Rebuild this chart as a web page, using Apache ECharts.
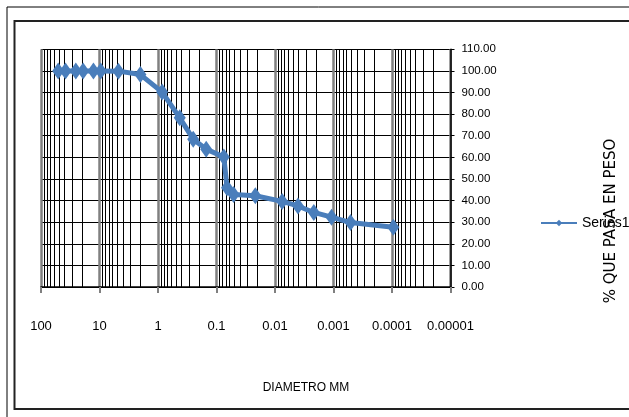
<!DOCTYPE html>
<html>
<head>
<meta charset="utf-8">
<script src="https://cdn.jsdelivr.net/npm/echarts@6/dist/echarts.min.js"></script>
<style>
  html, body { margin: 0; padding: 0; background: #fff; }
  #chart { width: 629px; height: 417px; }
</style>
</head>
<body>
<div id="chart"></div>
<script>
// Grain size distribution: particle diameter (mm) vs. percent passing
const diameters = [50.8, 38.1, 25.4, 19.05, 12.7, 9.525, 4.75, 2.0, 0.85, 0.425, 0.25, 0.15, 0.075,
                   0.066, 0.051, 0.0217, 0.00755, 0.00405, 0.00217, 0.00108, 0.000512, 0.000095];
const percentPassing = [100, 100, 100, 100, 100, 100, 99.9, 98.3, 90.2, 78.3, 68.4, 63.8, 60.2,
                        45.9, 42.8, 42.2, 39.6, 37.5, 34.5, 32.3, 29.8, 27.7];
const seriesName = 'Series1';
const xTickLabels = ['100', '10', '1', '0.1', '0.01', '0.001', '0.0001', '0.00001'];
const xMin = 0.00001, xMax = 100;
const yMin = 0, yMax = 110, yStep = 10;

const sans = "'Liberation Sans', Arial, sans-serif";

// minor log gridlines: 2..9 within each decade
const minorValues = [];
for (let e = -5; e < 2; e++) {
  for (let k = 2; k <= 9; k++) {
    minorValues.push([k * Math.pow(10, e), yMin]);
  }
}

const chart = echarts.init(document.getElementById('chart'), null, { renderer: 'canvas' });
chart.setOption({
  animation: false,
  backgroundColor: '#fff',
  grid: { left: 41, right: 178.5, top: 49.3, bottom: 130, containLabel: false },
  xAxis: {
    type: 'log',
    logBase: 10,
    min: xMin,
    max: xMax,
    inverse: true,
    axisLine: { show: true, lineStyle: { color: '#000', width: 1.5 } },
    axisTick: { show: true, length: 6, lineStyle: { color: '#808080', width: 2 } },
    axisLabel: {
      margin: 33,
      fontFamily: sans,
      fontSize: 13,
      color: '#000',
      formatter: function (v) {
        const i = Math.round(2 - Math.log10(v));
        return xTickLabels[i] !== undefined ? xTickLabels[i] : '';
      }
    },
    splitLine: { show: true, lineStyle: { color: '#808080', width: 2.5 } }
  },
  yAxis: {
    type: 'value',
    position: 'right',
    min: yMin,
    max: yMax,
    interval: yStep,
    axisLine: { show: true, lineStyle: { color: '#000', width: 1.5 } },
    axisTick: { show: true, inside: false, length: 4, lineStyle: { color: '#000' } },
    axisLabel: {
      margin: 11,
      fontFamily: sans,
      fontSize: 11.5,
      color: '#000',
      formatter: function (v) { return v.toFixed(2); }
    },
    splitLine: { show: true, lineStyle: { color: '#000', width: 1.2 } }
  },
  legend: {
    show: true,
    left: 535,
    top: 211,
    itemWidth: 36,
    itemHeight: 8,
    itemGap: 4,
    textStyle: { fontFamily: sans, fontSize: 14, color: '#000' },
    data: [seriesName]
  },
  graphic: [
    { type: 'rect', silent: true, z: 100,
      shape: { x: 7, y: 7, width: 700, height: 500 },
      style: { fill: 'none', stroke: '#000', lineWidth: 1 } },
    { type: 'rect', silent: true, z: 100,
      shape: { x: 14.5, y: 21, width: 700, height: 388 },
      style: { fill: 'none', stroke: '#222', lineWidth: 2 } },
    { type: 'text', silent: true, z: 100,
      x: 306, y: 388,
      style: {
        text: 'DIAMETRO MM',
        font: "12px 'Liberation Sans', Arial, sans-serif",
        fill: '#000',
        align: 'center',
        verticalAlign: 'middle'
      } },
    { type: 'text', silent: true, z: 100,
      x: 611, y: 221, rotation: Math.PI / 2,
      style: {
        text: '% QUE PASA EN PESO',
        font: "15px 'DejaVu Sans', sans-serif",
        fill: '#000',
        align: 'center',
        verticalAlign: 'middle'
      } }
  ],
  series: [
    {
      // log-scale minor gridlines
      type: 'custom',
      silent: true,
      z: 1,
      data: minorValues,
      encode: { x: 0, y: 1 },
      renderItem: function (params, api) {
        const v = api.value(0);
        const top = api.coord([v, yMax]);
        const bottom = api.coord([v, yMin]);
        const px = Math.round(top[0]) + 0.5;
        return {
          type: 'line',
          shape: { x1: px, y1: top[1], x2: px, y2: bottom[1] },
          style: { stroke: '#000', lineWidth: 1 }
        };
      }
    },
    {
      name: seriesName,
      type: 'line',
      z: 5,
      data: diameters.map((d, i) => [d, percentPassing[i]]),
      symbol: 'diamond',
      symbolSize: [12, 17],
      showSymbol: true,
      lineStyle: { color: '#4A7EBB', width: 5 },
      itemStyle: { color: '#4A7EBB' },
      emphasis: { disabled: true }
    }
  ]
});
</script>
</body>
</html>
